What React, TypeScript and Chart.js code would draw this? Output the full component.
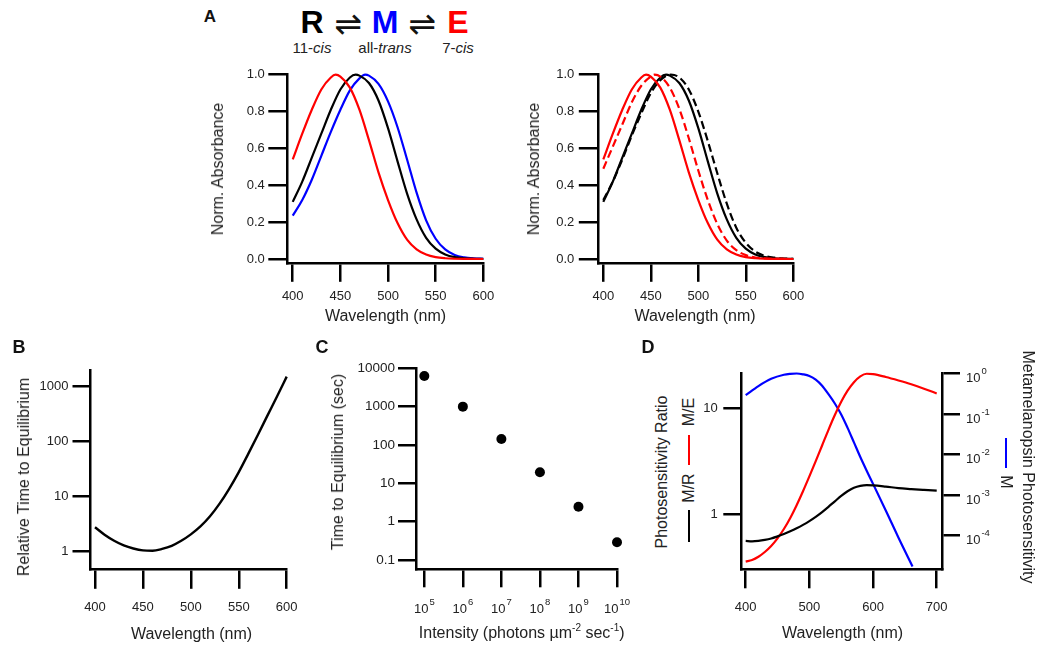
import React, { useEffect, useRef } from "react";
import { Chart, registerables } from "chart.js";

Chart.register(...registerables);

const FONT = "'Liberation Sans', Arial, Helvetica, sans-serif";
const INK = "#222222";
const RED = "#ff0000";
const BLUE = "#0000ff";
const BLACK = "#000000";

// ---------------- Panel A : normalized absorbance ----------------
const wlE = [400, 410, 420, 430, 440, 445, 450, 460, 470, 480, 490, 500, 510, 520, 530, 540, 550, 560, 570, 580, 590, 600];
const absE = [0.54, 0.68, 0.81, 0.92, 0.985, 1.0, 0.99, 0.93, 0.81, 0.645, 0.47, 0.32, 0.195, 0.105, 0.052, 0.024, 0.01, 0.004, 0.0015, 0.0005, 0.0002, 0];
const wlR = [400, 410, 420, 430, 440, 450, 460, 466, 470, 480, 490, 500, 510, 520, 530, 540, 550, 560, 570, 580, 590, 600];
const absR = [0.31, 0.42, 0.55, 0.68, 0.81, 0.92, 0.985, 1.0, 0.995, 0.955, 0.86, 0.71, 0.53, 0.355, 0.215, 0.115, 0.056, 0.025, 0.01, 0.004, 0.0015, 0.0005];
const wlM = [400, 410, 420, 430, 440, 450, 460, 470, 476, 480, 490, 500, 510, 520, 530, 540, 550, 560, 570, 580, 590, 600];
const absM = [0.235, 0.32, 0.43, 0.56, 0.69, 0.81, 0.915, 0.98, 1.0, 0.995, 0.95, 0.855, 0.715, 0.54, 0.36, 0.21, 0.11, 0.052, 0.022, 0.009, 0.0035, 0.0012];
const wlE2 = [400, 410, 420, 430, 440, 450, 454, 460, 470, 480, 490, 500, 510, 520, 530, 540, 550, 560, 570, 580, 590, 600];
const absE2 = [0.49, 0.61, 0.73, 0.85, 0.94, 0.99, 1.0, 0.99, 0.93, 0.815, 0.655, 0.48, 0.32, 0.19, 0.1, 0.048, 0.021, 0.008, 0.003, 0.001, 0.0003, 0];
const wlR2 = [400, 410, 420, 430, 440, 450, 460, 471, 480, 490, 500, 510, 520, 530, 540, 550, 560, 570, 580, 590, 600];
const absR2 = [0.32, 0.42, 0.54, 0.67, 0.79, 0.9, 0.97, 1.0, 0.985, 0.92, 0.8, 0.64, 0.465, 0.3, 0.17, 0.088, 0.04, 0.017, 0.007, 0.0025, 0.0008];
const ticksA_x = [400, 450, 500, 550, 600];
const labelsA_x = ["400", "450", "500", "550", "600"];
const ticksA_y = [0, 0.2, 0.4, 0.6, 0.8, 1.0];
const labelsA_y = ["0.0", "0.2", "0.4", "0.6", "0.8", "1.0"];

// ---------------- Panel B : relative time to equilibrium ----------------
const wlB = [400, 410, 420, 430, 440, 450, 460, 470, 480, 490, 500, 510, 520, 530, 540, 550, 560, 570, 580, 590, 600];
const timeB = [2.7, 1.97, 1.53, 1.26, 1.11, 1.025, 1.01, 1.09, 1.24, 1.53, 2.0, 2.79, 4.27, 7.24, 13.5, 27.2, 58.9, 130, 292, 653, 1480];
const ticksB_x = [400, 450, 500, 550, 600];
const labelsB_x = ["400", "450", "500", "550", "600"];
const ticksB_y = [1, 10, 100, 1000];
const labelsB_y = ["1", "10", "100", "1000"];

// ---------------- Panel C : time to equilibrium vs intensity ----------------
const intensityC = [1e5, 1e6, 1e7, 1e8, 1e9, 1e10];
const timeC = [6300, 1000, 143, 19.4, 2.46, 0.29];
const ticksC_x = [1e5, 1e6, 1e7, 1e8, 1e9, 1e10];
const labelsC_x = ["10\u2075", "10\u2076", "10\u2077", "10\u2078", "10\u2079", "10\u00b9\u2070"];
const expC_x = ["5", "6", "7", "8", "9", "10"];
const ticksC_y = [0.1, 1, 10, 100, 1000, 10000];
const labelsC_y = ["0.1", "1", "10", "100", "1000", "10000"];

// ---------------- Panel D : photosensitivity ----------------
const wlD = [400, 410, 420, 430, 440, 450, 460, 470, 480, 490, 500, 510, 520, 530, 540, 550, 560, 570, 580, 590, 600, 620, 640, 660, 680, 700];
const ratioME = [0.355, 0.367, 0.394, 0.437, 0.499, 0.589, 0.721, 0.918, 1.211, 1.641, 2.265, 3.162, 4.446, 6.252, 8.63, 11.51, 14.66, 17.62, 20.0, 21.18, 20.99, 19.72, 18.28, 16.83, 15.31, 13.8];
const ratioMR = [0.557, 0.552, 0.557, 0.569, 0.587, 0.614, 0.646, 0.686, 0.733, 0.789, 0.857, 0.94, 1.042, 1.169, 1.318, 1.483, 1.641, 1.77, 1.845, 1.875, 1.866, 1.816, 1.758, 1.722, 1.69, 1.66];
const wlDM = [400, 420, 440, 460, 470, 480, 490, 500, 510, 520, 530, 540, 550, 560, 570, 580, 590, 600, 620, 640, 662];
const sensM = [0.292, 0.49, 0.741, 0.933, 0.98, 1.0, 0.955, 0.871, 0.708, 0.5, 0.309, 0.182, 0.0977, 0.0457, 0.02, 0.0087, 0.004, 0.0019, 0.00042, 0.000089, 0.0000174];
const ticksD_x = [400, 500, 600, 700];
const labelsD_x = ["400", "500", "600", "700"];
const ticksD_y = [1, 10];
const labelsD_y = ["1", "10"];
const ticksD_y2 = [1, 0.1, 0.01, 0.001, 0.0001];
const labelsD_y2 = ["10\u2070", "10\u207b\u00b9", "10\u207b\u00b2", "10\u207b\u00b3", "10\u207b\u2074"];
const expD_y2 = ["0", "-1", "-2", "-3", "-4"];

// ---------------- helpers ----------------
type ScaleOpts = {
  type: "linear" | "logarithmic";
  position: "left" | "right" | "bottom";
  min: number;
  max: number;
  ticks: number[];
  labels: string[];
  size: number;
  tl: number;
  pad: number;
  fontSize?: number;
  showLabels?: boolean;
};

function scaleCfg(o: ScaleOpts) {
  const horizontal = o.position === "bottom";
  return {
    type: o.type,
    position: o.position,
    min: o.min,
    max: o.max,
    afterBuildTicks: (s: any) => {
      s.ticks = o.ticks.map((v) => ({ value: v }));
    },
    afterFit: (s: any) => {
      if (horizontal) s.height = o.size;
      else s.width = o.size;
      s.paddingTop = 0;
      s.paddingBottom = 0;
      s.paddingLeft = 0;
      s.paddingRight = 0;
    },
    ticks: {
      display: o.showLabels ?? true,
      autoSkip: false,
      maxRotation: 0,
      minRotation: 0,
      padding: o.pad,
      color: INK,
      font: { family: FONT, size: o.fontSize ?? 13 },
      callback: (_v: any, i: number) => o.labels[i],
    },
    grid: {
      display: true,
      drawOnChartArea: false,
      drawTicks: true,
      tickLength: o.tl,
      tickWidth: 2.5,
      tickColor: BLACK,
      color: BLACK,
      lineWidth: 2.5,
    },
    border: { display: true, color: BLACK, width: 2.5 },
    title: { display: false },
  };
}

// draws "10" with a raised exponent for power-of-ten tick labels
function powerLabels(specs: { scaleId: string; ticks: number[]; exps: string[] }[]) {
  return {
    id: "powerLabels",
    afterDraw(chart: any) {
      const ctx = chart.ctx;
      ctx.save();
      ctx.fillStyle = INK;
      ctx.textAlign = "left";
      ctx.textBaseline = "alphabetic";
      for (const sp of specs) {
        const s = chart.scales[sp.scaleId];
        sp.ticks.forEach((v, i) => {
          const p = s.getPixelForValue(v);
          ctx.font = `13px ${FONT}`;
          const wb = ctx.measureText("10").width;
          ctx.font = `9.5px ${FONT}`;
          const we = ctx.measureText(sp.exps[i]).width;
          let x0: number;
          let yb: number;
          if (s.isHorizontal()) {
            x0 = p - (wb + 1 + we) / 2;
            yb = s.top + 44;
          } else {
            x0 = s.left + 24;
            yb = p + 8.5;
          }
          ctx.font = `13px ${FONT}`;
          ctx.fillText("10", x0, yb);
          ctx.font = `9.5px ${FONT}`;
          ctx.fillText(sp.exps[i], x0 + wb + 1, yb - 8);
        });
      }
      ctx.restore();
    },
  };
}

function lineDs(xs: number[], ys: number[], color: string, extra: any = {}) {
  return {
    data: xs.map((x, i) => ({ x, y: ys[i] })),
    borderColor: color,
    backgroundColor: color,
    borderWidth: 2.2,
    pointRadius: 0,
    fill: false,
    cubicInterpolationMode: "monotone",
    clip: false,
    ...extra,
  };
}

function makeConfig(datasets: any[], scales: any, padTop: number, padRight: number, plugins: any[] = []) {
  return {
    type: "line",
    data: { datasets },
    options: {
      responsive: false,
      animation: false,
      events: [],
      layout: { padding: { left: 0, top: padTop, right: padRight, bottom: 0 } },
      plugins: {
        legend: { display: false },
        tooltip: { enabled: false },
        title: { display: false },
      },
      scales,
    },
    plugins,
  };
}

function ChartCanvas(props: { left: number; top: number; width: number; height: number; make: () => any }) {
  const ref = useRef<HTMLCanvasElement | null>(null);
  useEffect(() => {
    if (!ref.current) return;
    const chart = new Chart(ref.current, props.make());
    return () => chart.destroy();
  }, []);
  return (
    <canvas
      ref={ref}
      width={props.width}
      height={props.height}
      style={{ position: "absolute", left: props.left, top: props.top, width: props.width, height: props.height }}
    />
  );
}

function Txt(props: {
  x: number;
  y: number;
  rot?: number;
  size?: number;
  bold?: boolean;
  color?: string;
  family?: string;
  children: React.ReactNode;
}) {
  return (
    <div
      style={{
        position: "absolute",
        left: props.x,
        top: props.y,
        transform: `translate(-50%, -50%) rotate(${props.rot ?? 0}deg)`,
        fontFamily: props.family ?? FONT,
        fontSize: props.size ?? 16,
        fontWeight: props.bold ? 700 : 400,
        color: props.color ?? INK,
        lineHeight: 1,
        whiteSpace: "nowrap",
      }}
    >
      {props.children}
    </div>
  );
}

function Bar(props: { x: number; y: number; h: number; color: string }) {
  return (
    <div style={{ position: "absolute", left: props.x - 1, top: props.y, width: 2, height: props.h, background: props.color }} />
  );
}

// ---------------- chart configs ----------------
const makeA1 = () =>
  makeConfig(
    [lineDs(wlE, absE, RED), lineDs(wlR, absR, BLACK), lineDs(wlM, absM, BLUE)],
    {
      x: scaleCfg({ type: "linear", position: "bottom", min: 394.3, max: 600, ticks: ticksA_x, labels: labelsA_x, size: 77.2, tl: 19, pad: 7 }),
      y: scaleCfg({ type: "linear", position: "left", min: -0.0206, max: 1.0, ticks: ticksA_y, labels: labelsA_y, size: 97.3, tl: 19, pad: 3.5 }),
    },
    14.7,
    16.7
  );

const makeA2 = () =>
  makeConfig(
    [
      lineDs(wlE, absE, RED),
      lineDs(wlE2, absE2, RED, { borderDash: [8, 4] }),
      lineDs(wlR, absR, BLACK),
      lineDs(wlR2, absR2, BLACK, { borderDash: [8, 4] }),
    ],
    {
      x: scaleCfg({ type: "linear", position: "bottom", min: 394.2, max: 600, ticks: ticksA_x, labels: labelsA_x, size: 77.2, tl: 19, pad: 7 }),
      y: scaleCfg({ type: "linear", position: "left", min: -0.0206, max: 1.0, ticks: ticksA_y, labels: labelsA_y, size: 92.8, tl: 19, pad: 4.5 }),
    },
    14.7,
    26.7
  );

const makeB = () =>
  makeConfig(
    [lineDs(wlB, timeB, BLACK, { borderWidth: 2.4 })],
    {
      x: scaleCfg({ type: "linear", position: "bottom", min: 394.8, max: 600, ticks: ticksB_x, labels: labelsB_x, size: 79.7, tl: 19.5, pad: 11 }),
      y: scaleCfg({ type: "logarithmic", position: "left", min: 0.464, max: 1954, ticks: ticksB_y, labels: labelsB_y, size: 90, tl: 17.5, pad: 4 }),
    },
    15,
    13.3
  );

const makeC = () =>
  makeConfig(
    [
      {
        data: intensityC.map((x, i) => ({ x, y: timeC[i] })),
        showLine: false,
        pointRadius: 5,
        pointBackgroundColor: BLACK,
        pointBorderColor: BLACK,
        pointBorderWidth: 0,
        clip: false,
      },
    ],
    {
      x: scaleCfg({ type: "logarithmic", position: "bottom", min: 60800, max: 1e10, ticks: ticksC_x, labels: labelsC_x, size: 80, tl: 18.3, pad: 12.5, showLabels: false }),
      y: scaleCfg({ type: "logarithmic", position: "left", min: 0.0582, max: 10000, ticks: ticksC_y, labels: labelsC_y, size: 111, tl: 18, pad: 3, fontSize: 13.5 }),
    },
    13.3,
    18,
    [powerLabels([{ scaleId: "x", ticks: ticksC_x, exps: expC_x }])]
  );

const makeD = () =>
  makeConfig(
    [
      lineDs(wlD, ratioMR, BLACK, { yAxisID: "y" }),
      lineDs(wlD, ratioME, RED, { yAxisID: "y" }),
      lineDs(wlDM, sensM, BLUE, { yAxisID: "y2" }),
    ],
    {
      x: scaleCfg({ type: "linear", position: "bottom", min: 393.1, max: 708.3, ticks: ticksD_x, labels: labelsD_x, size: 79.7, tl: 19, pad: 11.5 }),
      y: scaleCfg({ type: "logarithmic", position: "left", min: 0.34, max: 21.3, ticks: ticksD_y, labels: labelsD_y, size: 41.3, tl: 18, pad: 5.5 }),
      y2: scaleCfg({ type: "logarithmic", position: "right", min: 0.00001486, max: 1.0, ticks: ticksD_y2, labels: labelsD_y2, size: 95, tl: 18, pad: 6, showLabels: false }),
    },
    18.5,
    0,
    [powerLabels([{ scaleId: "y2", ticks: ticksD_y2, exps: expD_y2 }])]
  );

export default function App() {
  return (
    <div
      style={{
        position: "absolute",
        left: 0,
        top: 0,
        width: 1037,
        height: 649,
        background: "#ffffff",
        overflow: "hidden",
        fontFamily: FONT,
      }}
    >
      <ChartCanvas left={190} top={60} width={310} height={280} make={makeA1} />
      <ChartCanvas left={505} top={60} width={315} height={280} make={makeA2} />
      <ChartCanvas left={0} top={355} width={300} height={294} make={makeB} />
      <ChartCanvas left={305} top={355} width={330} height={294} make={makeC} />
      <ChartCanvas left={700} top={355} width={337} height={294} make={makeD} />

      {/* Panel letters */}
      <Txt x={210} y={15.5} size={17} bold color="#111">A</Txt>
      <Txt x={19} y={347} size={18} bold color="#111">B</Txt>
      <Txt x={322} y={347} size={18} bold color="#111">C</Txt>
      <Txt x={648} y={347} size={18} bold color="#111">D</Txt>

      {/* Scheme R <=> M <=> E */}
      <Txt x={312} y={21.5} size={32} bold color={BLACK}>R</Txt>
      <Txt x={348} y={23.3} size={33} color="#111" family="'DejaVu Sans', sans-serif">{"\u21cc"}</Txt>
      <Txt x={385} y={21.5} size={32} bold color={BLUE}>M</Txt>
      <Txt x={422} y={23.3} size={33} color="#111" family="'DejaVu Sans', sans-serif">{"\u21cc"}</Txt>
      <Txt x={458} y={21.5} size={32} bold color={RED}>E</Txt>
      <Txt x={312} y={47} size={15}>11-<i>cis</i></Txt>
      <Txt x={385} y={47} size={15}>all-<i>trans</i></Txt>
      <Txt x={458} y={47} size={15}>7-<i>cis</i></Txt>

      {/* Panel A titles */}
      <Txt x={218} y={169} rot={-90}>Norm. Absorbance</Txt>
      <Txt x={385.5} y={316}>Wavelength (nm)</Txt>
      <Txt x={534} y={169} rot={-90}>Norm. Absorbance</Txt>
      <Txt x={695} y={316}>Wavelength (nm)</Txt>

      {/* Panel B titles */}
      <Txt x={24} y={476.7} rot={-90}>Relative Time to Equilibrium</Txt>
      <Txt x={191.5} y={634}>Wavelength (nm)</Txt>

      {/* Panel C titles */}
      <Txt x={337.5} y={461.7} rot={-90}>Time to Equilibrium (sec)</Txt>
      <Txt x={521.7} y={632.5}>
        Intensity (photons µm
        <span style={{ fontSize: 10, position: "relative", top: -7 }}>-2</span> sec
        <span style={{ fontSize: 10, position: "relative", top: -7 }}>-1</span>)
      </Txt>

      {/* Panel D titles */}
      <Txt x={662.4} y={471.7} rot={-90}>Photosensitivity Ratio</Txt>
      <Bar x={689} y={510} h={31.7} color={BLACK} />
      <Txt x={689.2} y={488.3} rot={-90}>M/R</Txt>
      <Bar x={689} y={435} h={30} color={RED} />
      <Txt x={689.2} y={411.5} rot={-90}>M/E</Txt>
      <Txt x={842.5} y={632.5}>Wavelength (nm)</Txt>
      <Txt x={1028.3} y={466.5} rot={90}>Metamelanopsin Photosensitivity</Txt>
      <Bar x={1006} y={438} h={30} color={BLUE} />
      <Txt x={1005.8} y={481.5} rot={90}>M</Txt>
    </div>
  );
}
